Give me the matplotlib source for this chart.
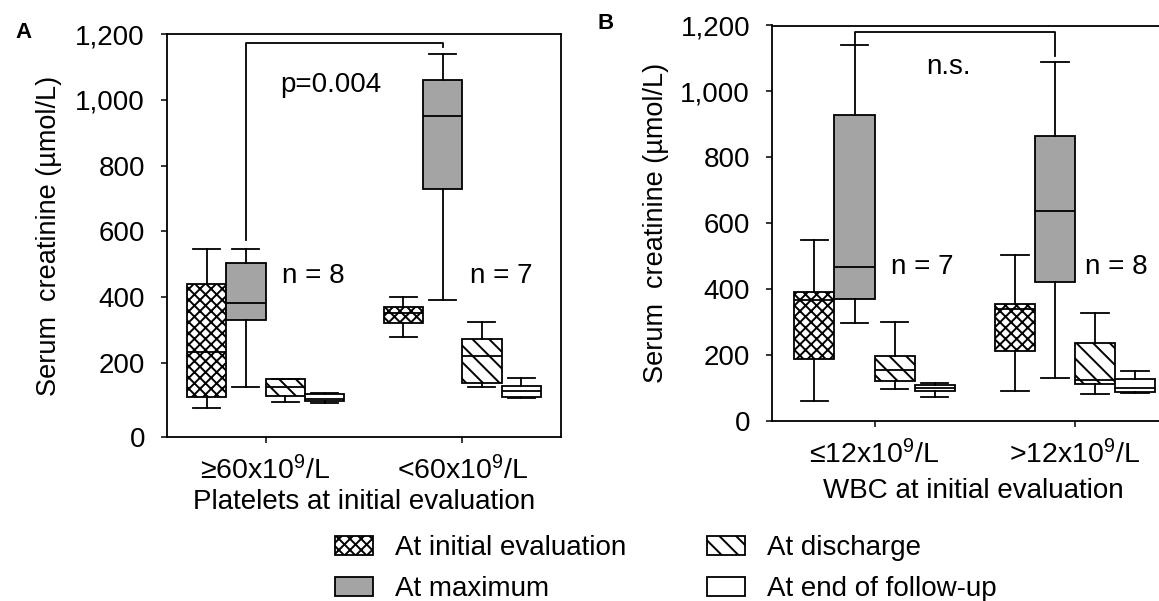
import numpy as np
import matplotlib
matplotlib.use('Agg')
import matplotlib.pyplot as plt
from matplotlib.patches import Patch
from matplotlib.ticker import FuncFormatter

plt.rcParams['font.family'] = ['Liberation Sans', 'DejaVu Sans']
plt.rcParams['mathtext.fontset'] = 'custom'
plt.rcParams['mathtext.rm'] = 'Liberation Sans'
plt.rcParams['mathtext.it'] = 'Liberation Sans:italic'
plt.rcParams['hatch.linewidth'] = 1.4

# ---------------- data ----------------
series = ['At initial evaluation', 'At maximum', 'At discharge', 'At end of follow-up']

# Panel A: platelets at initial evaluation
a_groups = ['≥60x10$^{9}$/L', '<60x10$^{9}$/L']
a_whislo = [[78, 136, 95, 91], [277, 391, 134, 106]]
a_q1     = [[109, 330, 111, 96], [320, 729, 145, 109]]
a_med    = [[234, 381, 134, 104], [350, 951, 221, 124]]
a_q3     = [[439, 503, 155, 116], [369, 1061, 272, 137]]
a_whishi = [[547, 547, 157, 118], [401, 1141, 325, 158]]
a_n = ['n = 8', 'n = 7']
a_p = 'p=0.004'

# Panel B: WBC at initial evaluation
b_groups = ['≤12x10$^{9}$/L', '>12x10$^{9}$/L']
b_whislo = [[62, 297, 98, 75], [92, 130, 82, 85]]
b_q1     = [[190, 372, 123, 92], [214, 423, 113, 88]]
b_med    = [[368, 468, 155, 100], [340, 638, 125, 100]]
b_q3     = [[393, 930, 199, 110], [357, 865, 236, 128]]
b_whishi = [[549, 1142, 302, 115], [504, 1090, 329, 153]]
b_n = ['n = 7', 'n = 8']
b_p = 'n.s.'

yticks = [0, 200, 400, 600, 800, 1000, 1200]

# ---------------- styles ----------------
fills = ['white', '#a4a4a4', 'white', 'white']
hatches = ['xxx', '', '\\\\', '']
offsets = [-0.3, -0.1, 0.1, 0.3]
box_w = 0.2
cap_w = 0.137
LW = 1.3
FS = 20

W, H = 1159, 601
fig = plt.figure(figsize=(W / 100, H / 100), dpi=100)


def px_axes(left, right, top, bottom):
    return fig.add_axes([left / W, 1 - bottom / H, (right - left) / W, (bottom - top) / H])


axA = px_axes(167.2, 560.5, 34.2, 437.3)
axB = px_axes(772.3, 1175.3, 25.5, 421.3)

# panel A's printed axis is stretched between 0 and 200
k = 74.6 / 65.7


def fwd(v):
    v = np.asarray(v, dtype=float)
    return np.where(v < 200, 200 - (200 - v) * k, v)


def inv(u):
    u = np.asarray(u, dtype=float)
    return np.where(u < 200, 200 - (200 - u) / k, u)


axA.set_yscale('function', functions=(fwd, inv))


def draw_panel(ax, groups, whislo, q1, med, q3, whishi, xlim):
    for g in range(len(groups)):
        stats = []
        for s in range(len(series)):
            stats.append(dict(med=med[g][s], q1=q1[g][s], q3=q3[g][s],
                              whislo=whislo[g][s], whishi=whishi[g][s], fliers=[]))
        pos = [g + o for o in offsets]
        bp = ax.bxp(stats, positions=pos, widths=box_w, capwidths=cap_w,
                    patch_artist=True, showfliers=False,
                    boxprops=dict(edgecolor='black', linewidth=LW),
                    medianprops=dict(color='black', linewidth=LW),
                    whiskerprops=dict(color='black', linewidth=LW),
                    capprops=dict(color='black', linewidth=LW),
                    manage_ticks=False)
        for s, patch in enumerate(bp['boxes']):
            patch.set_facecolor(fills[s])
            patch.set_hatch(hatches[s])
            patch.set_zorder(2)
    ax.set_xlim(*xlim)
    ax.set_ylim(0, 1200)
    ax.set_xticks(range(len(groups)))
    ax.set_xticklabels(groups, fontsize=20.5)
    ax.set_yticks(yticks)
    ax.yaxis.set_major_formatter(FuncFormatter(lambda v, p: f'{int(round(v)):,}'))
    ax.tick_params(axis='y', labelsize=FS, length=4, width=1.1, pad=12)
    ax.tick_params(axis='x', length=4, width=1.1, pad=9.5)
    ax.minorticks_off()
    for sp in ax.spines.values():
        sp.set_linewidth(LW)


draw_panel(axA, a_groups, a_whislo, a_q1, a_med, a_q3, a_whishi, (-0.5, 1.5))
draw_panel(axB, b_groups, b_whislo, b_q1, b_med, b_q3, b_whishi, (-0.51, 1.5))

# labels
axA.set_xlabel('Platelets at initial evaluation', fontsize=FS, labelpad=3)
axB.set_xlabel('WBC at initial evaluation', fontsize=FS, labelpad=6)
axA.set_ylabel('Serum  creatinine (µmol/L)', fontsize=19.5)
axB.set_ylabel('Serum  creatinine (µmol/L)', fontsize=19.5)
axA.yaxis.set_label_coords(-0.268, 0.5)
axB.yaxis.set_label_coords(-0.257, 0.5)

# significance brackets and annotations
axA.plot([-0.1, -0.1, 0.9, 0.9], [574, 1173, 1173, 1162], color='black', lw=LW)
axB.plot([-0.1, -0.1, 0.9, 0.9], [1142, 1179, 1179, 1107], color='black', lw=LW)
axA.text(0.33, 1046, a_p, fontsize=FS, ha='center', va='center')
axB.text(0.367, 1075, b_p, fontsize=FS, ha='center', va='center')
axA.text(0.245, 464, a_n[0], fontsize=FS, ha='center', va='center')
axA.text(1.197, 464, a_n[1], fontsize=FS, ha='center', va='center')
axB.text(0.238, 468, b_n[0], fontsize=FS, ha='center', va='center')
axB.text(1.204, 468, b_n[1], fontsize=FS, ha='center', va='center')

# panel letters
fig.text(23 / W, 1 - 32 / H, 'A', fontsize=16, fontweight='bold', ha='center', va='center')
fig.text(606 / W, 1 - 23.5 / H, 'B', fontsize=16, fontweight='bold', ha='center', va='center')

# legend
handles = [Patch(facecolor=fills[s], edgecolor='black', hatch=hatches[s], linewidth=LW)
           for s in range(len(series))]
fig.legend(handles, series, ncol=2, loc='upper left',
           bbox_to_anchor=(335 / W, 1 - 535 / H), frameon=False, fontsize=FS,
           handlelength=1.37, handleheight=0.65, handletextpad=0.8,
           columnspacing=2.9, labelspacing=0.55, borderaxespad=0, borderpad=0)

fig.savefig('out.png', dpi=100)
